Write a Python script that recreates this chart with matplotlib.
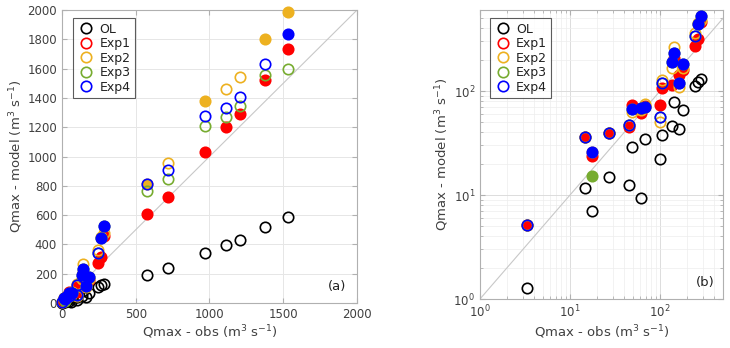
import numpy as np
import matplotlib
matplotlib.use("Agg")
import matplotlib.pyplot as plt
from matplotlib.lines import Line2D

# station peak discharge, observed (m3/s)
obs = [3.3, 14.7, 17.4, 27.4, 45.6, 48.4, 61, 68, 100, 104, 135, 144, 164, 182,
       245, 267, 283, 575, 720, 970, 1110, 1210, 1375, 1530]

# simulated peak discharge for each run
ol = [1.27, 11.6, 7.0, 15.0, 12.5, 29.2, 9.3, 34.3, 22.0, 37.7, 46, 79, 42.8, 65.7,
      112, 123, 130, 193, 238, 343, 399, 428, 519, 588]
exp1 = [5.2, 35.8, 23.9, 39.2, 45, 73, 61, 72, 73.3, 108, 114, 206, 142, 159,
        272, 313, 460, 611, 727, 1032, 1205, 1293, 1523, 1732]
exp2 = [5.2, 35.8, 26.1, 39.2, 47, 63, 65, 75, 50.7, 127, 165, 267, 110, 165,
        360, 450, 480, 810, 955, 1380, 1464, 1545, 1800, 1989]
exp3 = [5.2, 35.8, 15.2, 39.2, 47, 66.7, 68, 70.7, 56.6, 120, 191, 234, 118.6, 180,
        340, 443, 525, 768, 848, 1209, 1270, 1348, 1559, 1598]
exp4 = [5.2, 35.8, 26.1, 39.2, 47, 66.7, 68, 70.7, 56.6, 120, 191, 234, 118.6, 180,
        340, 443, 525, 811, 909, 1275, 1334, 1409, 1632, 1834]

# filled marker = flagged station
ol_fill = [0] * 24
exp1_fill = [1] * 24
exp2_fill = [0] * 17 + [1, 0, 1, 0, 0, 1, 1]
exp3_fill = [0, 0, 1] + [0] * 21
exp4_fill = [0, 0, 1, 0, 0, 1, 1, 1, 0, 0, 1, 1, 1, 1, 0, 1, 1, 0, 0, 0, 0, 0, 0, 1]

names = ["OL", "Exp1", "Exp2", "Exp3", "Exp4"]
colors = ["black", "#ff0000", "#EDB120", "#77AC30", "#0000ff"]
runs = [ol, exp1, exp2, exp3, exp4]
fills = [ol_fill, exp1_fill, exp2_fill, exp3_fill, exp4_fill]

txt = "#404040"
plt.rcParams['font.family'] = ['DejaVu Sans']

fig = plt.figure(figsize=(7.30, 3.48), dpi=100)
ax1 = fig.add_axes([0.0849, 0.1293, 0.4041, 0.8417])
ax2 = fig.add_axes([0.6575, 0.1408, 0.3329, 0.8302])


def draw(ax, xmax, clip):
    x = np.array(obs)
    keep = x <= xmax
    for vals, fl, c in zip(runs, fills, colors):
        v = np.array(vals)
        f = np.array(fl, dtype=bool)
        ax.plot(x[~f & keep], v[~f & keep], 'o', ls='none', mfc='none', mec=c,
                ms=7.5, mew=1.2, zorder=3, clip_on=clip)
        ax.plot(x[f & keep], v[f & keep], 'o', ls='none', mfc=c, mec=c,
                ms=7.5, mew=1.2, zorder=3, clip_on=clip)
    handles = [Line2D([], [], marker='o', ls='none', mfc='none', mec=c, ms=7.5, mew=1.2)
               for c in colors]
    leg = ax.legend(handles, names, loc='upper left', bbox_to_anchor=(0.03, 0.98),
                    fontsize=9, frameon=True, fancybox=False, edgecolor='#333333',
                    handletextpad=0.35, borderpad=0.35, labelspacing=0.12,
                    handlelength=1.4, borderaxespad=0.2)
    leg.get_frame().set_linewidth(0.8)
    leg.set_zorder(5)
    for t in leg.get_texts():
        t.set_color('#222222')
    for s in ax.spines.values():
        s.set_color('#b0b0b0')
        s.set_linewidth(0.8)
    ax.tick_params(direction='in', top=True, right=True, colors='#b0b0b0',
                   labelcolor=txt, labelsize=8.5)
    ax.set_xlabel('Qmax - obs (m$^3$ s$^{-1}$)', color=txt, fontsize=9.5, labelpad=2)
    ax.set_ylabel('Qmax - model (m$^3$ s$^{-1}$)', color=txt, fontsize=9.5, labelpad=2)


# (a) linear axes
draw(ax1, 2000, False)
ax1.plot([0, 2000], [0, 2000], color='#c8c8c8', lw=0.8, zorder=1)
ax1.set_xlim(0, 2000)
ax1.set_ylim(0, 2000)
ax1.set_xticks(np.arange(0, 2001, 500))
ax1.set_yticks(np.arange(0, 2001, 200))
ax1.grid(True, color='#e6e6e6', lw=0.7)
ax1.set_axisbelow(True)
ax1.text(0.965, 0.035, '(a)', transform=ax1.transAxes, ha='right', va='bottom',
         fontsize=9.5, color='#222222')

# (b) log axes
draw(ax2, 500, True)
ax2.set_xscale('log')
ax2.set_yscale('log')
ax2.plot([1, 600], [1, 600], color='#c8c8c8', lw=0.8, zorder=1)
ax2.set_xlim(1, 500)
ax2.set_ylim(1, 600)
ax2.grid(True, which='major', color='#dcdcdc', lw=0.7)
ax2.grid(True, which='minor', color='#ededed', lw=0.5)
ax2.set_axisbelow(True)
ax2.tick_params(which='minor', direction='in', top=True, right=True, colors='#b0b0b0')
ax2.text(0.965, 0.035, '(b)', transform=ax2.transAxes, ha='right', va='bottom',
         fontsize=9.5, color='#222222')

fig.savefig('out.png', dpi=100, facecolor='white')
